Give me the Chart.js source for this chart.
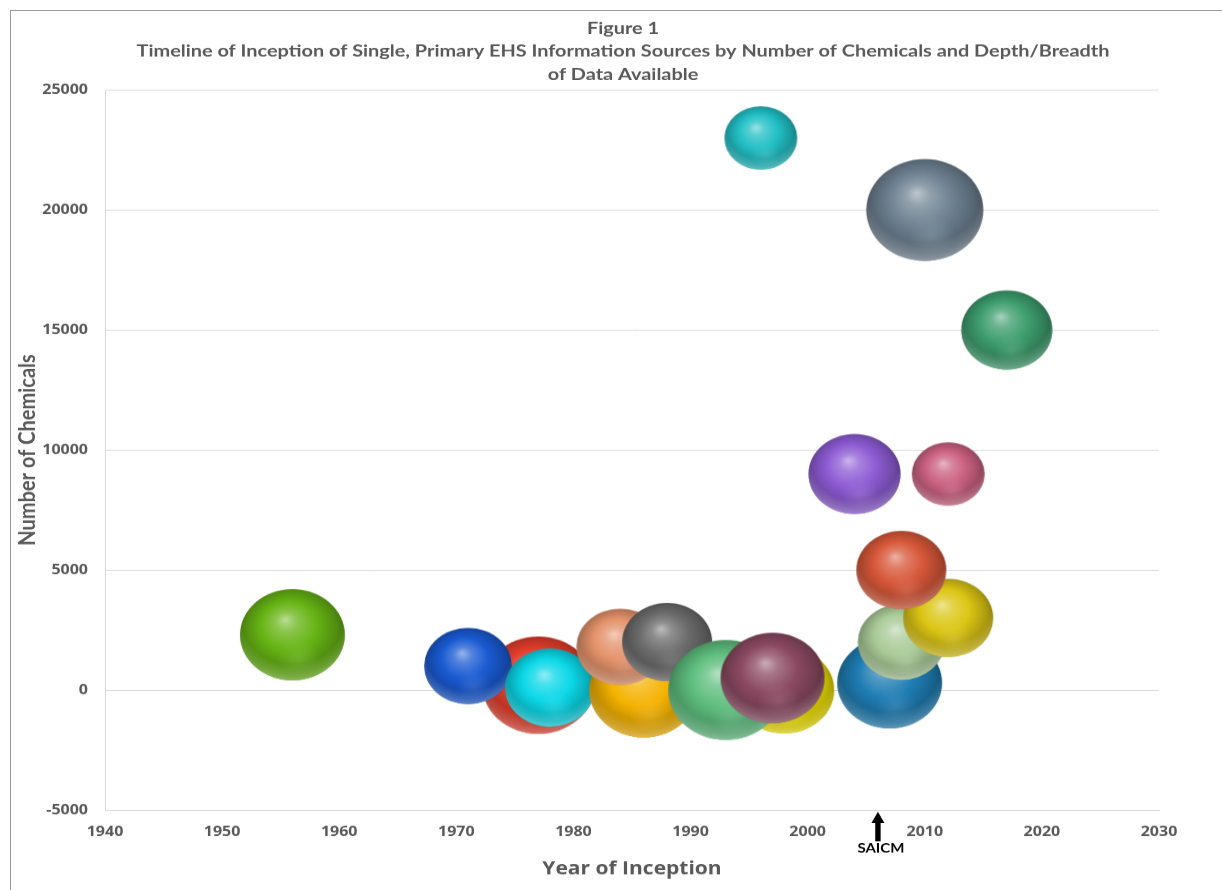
<!DOCTYPE html>
<html>
<head>
<meta charset="utf-8">
<script src="https://cdn.jsdelivr.net/npm/chart.js@4/dist/chart.umd.min.js"></script>
<style>
  html, body { margin: 0; padding: 0; background: #ffffff; overflow: hidden; width: 1222px; height: 890px; }
  #frame {
    position: absolute; left: 10px; top: 10px; width: 1400px; height: 1000px;
    border-left: 1px solid #9a9a9a; border-top: 1px solid #9a9a9a;
  }
  #chart {
    position: absolute; left: 0; top: 0;
    transform: scaleY(0.87); transform-origin: 0 0;
  }
</style>
</head>
<body>
<div id="frame"></div>
<canvas id="chart" width="1246" height="1023"></canvas>
<script>
// Information sources, listed back to front (later entries overlap earlier ones)
const inceptionYears = [1956, 1977, 1971, 1978, 1986, 1984, 1988, 1998, 1993, 1997,
                        1996, 2010, 2017, 2004, 2012, 2007, 2008, 2012, 2008];
const chemicalCounts = [2300, 200, 1000, 100, 0, 1800, 2000, 0, 0, 500,
                        23000, 20000, 15000, 9000, 9000, 300, 2000, 3000, 5000];
// depth/breadth of data available (bubble area)
const depthScores    = [110, 125, 77, 81, 119, 77, 81, 100, 132, 108,
                        53, 137, 83, 85, 53, 110, 76, 81, 81];

const xTickStart = 1940, xTickEnd = 2030, xTickStep = 10;
const yTickStart = -5000, yTickEnd = 25000, yTickStep = 5000;

const milestoneYear = 2006;
const milestoneLabel = 'SAICM';

const titleLines = [
  'Figure 1',
  'Timeline of Inception of Single, Primary EHS Information Sources by Number of Chemicals and Depth/Breadth',
  'of Data Available'
];

const sphereColors = ['#66b414', '#e43e2c', '#1a5bd2', '#0cd8e8', '#f4b200', '#e4926a',
                      '#6c6c6c', '#f2e400', '#5ebe7e', '#8c4a62', '#22c0c6', '#6e8292',
                      '#3e9e6e', '#8e5cd4', '#cc6282', '#1f7db4', '#aacc98', '#dcc614', '#d8583a'];

const TEXT_GREY = '#595959';
const GRID_GREY = '#d9d9d9';
const RADIUS_PER_ROOT = 5;
const TICK_FONT = { family: '"Open Sans", "DejaVu Sans", sans-serif', size: 16, weight: 'bold' };
const TITLE_FONT = 'bold 19.9px Lato, "Noto Sans", sans-serif';
const TITLE_FIRST_LINE = 33, TITLE_LINE_HEIGHT = 26.07;

function hexToRgb(h) {
  const n = parseInt(h.slice(1), 16);
  return [(n >> 16) & 255, (n >> 8) & 255, n & 255];
}
function mix(hex, target, t, alpha) {
  const a = hexToRgb(hex), b = hexToRgb(target);
  const c = a.map((v, i) => Math.round(v + (b[i] - v) * t));
  return alpha === undefined ? `rgb(${c[0]},${c[1]},${c[2]})` : `rgba(${c[0]},${c[1]},${c[2]},${alpha})`;
}

// shaded sphere sprite used as the point style of each bubble
const spriteCache = {};
function sphereSprite(color, r) {
  const key = color + '_' + r.toFixed(2);
  if (spriteCache[key]) return spriteCache[key];
  const d = Math.ceil(2 * r) + 2;
  const cv = document.createElement('canvas');
  cv.width = d; cv.height = d;
  const g = cv.getContext('2d');
  const cx = d / 2, cy = d / 2;
  g.beginPath();
  g.arc(cx, cy, r, 0, Math.PI * 2);
  g.closePath();
  g.save();
  g.clip();
  const hx = cx - 0.14 * r, hy = cy - 0.34 * r;
  const body = g.createRadialGradient(hx, hy, 0, cx, cy - 0.05 * r, r * 1.08);
  body.addColorStop(0, mix(color, '#ffffff', 0.55));
  body.addColorStop(0.2, mix(color, '#ffffff', 0.24));
  body.addColorStop(0.5, color);
  body.addColorStop(0.82, mix(color, '#000000', 0.22));
  body.addColorStop(1, mix(color, '#000000', 0.42));
  g.fillStyle = body;
  g.fillRect(0, 0, d, d);
  // soft reflected light low on the sphere
  const glow = g.createRadialGradient(cx + 0.12 * r, cy + 0.5 * r, 0, cx + 0.12 * r, cy + 0.5 * r, 0.4 * r);
  glow.addColorStop(0, mix(color, '#ffffff', 0.3, 0.35));
  glow.addColorStop(1, mix(color, '#ffffff', 0.3, 0));
  g.fillStyle = glow;
  g.fillRect(0, 0, d, d);
  // rim light along the lower edge
  const rim = g.createRadialGradient(cx, cy - 0.3 * r, 0.95 * r, cx, cy - 0.3 * r, 1.32 * r);
  rim.addColorStop(0, mix(color, '#ffffff', 0.35, 0));
  rim.addColorStop(1, mix(color, '#ffffff', 0.35, 0.85));
  g.fillStyle = rim;
  g.fillRect(0, 0, d, d);
  g.restore();
  spriteCache[key] = cv;
  return cv;
}

const bubbleData = inceptionYears.map((yr, i) => ({
  x: yr,
  y: chemicalCounts[i],
  r: Math.sqrt(depthScores[i]) * RADIUS_PER_ROOT
}));

// multi-line figure title, centred on the whole chart object
const figureTitlePlugin = {
  id: 'figureTitle',
  afterDraw(chart) {
    const { ctx } = chart;
    ctx.save();
    ctx.font = TITLE_FONT;
    ctx.fillStyle = TEXT_GREY;
    ctx.textAlign = 'center';
    ctx.textBaseline = 'middle';
    titleLines.forEach((line, i) => {
      ctx.fillText(line, chart.width / 2, TITLE_FIRST_LINE + i * TITLE_LINE_HEIGHT);
    });
    ctx.restore();
  }
};

// arrow + label marking a policy milestone under the year axis
const milestonePlugin = {
  id: 'milestone',
  afterDraw(chart) {
    const { ctx, chartArea, scales } = chart;
    const x = scales.x.getPixelForValue(milestoneYear);
    const top = chartArea.bottom + 2;
    const headH = 13, headW = 6.5, shaftW = 2.7, len = 34;
    ctx.save();
    ctx.fillStyle = '#000000';
    ctx.beginPath();
    ctx.moveTo(x, top);
    ctx.lineTo(x + headW, top + headH);
    ctx.lineTo(x + shaftW, top + headH);
    ctx.lineTo(x + shaftW, top + len);
    ctx.lineTo(x - shaftW, top + len);
    ctx.lineTo(x - shaftW, top + headH);
    ctx.lineTo(x - headW, top + headH);
    ctx.closePath();
    ctx.fill();
    ctx.font = 'bold 15px Lato, "Noto Sans", sans-serif';
    ctx.textAlign = 'center';
    ctx.textBaseline = 'middle';
    ctx.fillText(milestoneLabel, x + 3, top + len + 8);
    ctx.restore();
  }
};

new Chart(document.getElementById('chart'), {
  type: 'bubble',
  data: {
    datasets: [{
      data: bubbleData,
      pointStyle: (c) => sphereSprite(sphereColors[c.dataIndex], bubbleData[c.dataIndex].r),
      backgroundColor: sphereColors,
      borderWidth: 0,
      clip: false
    }]
  },
  options: {
    responsive: false,
    devicePixelRatio: 1,
    animation: false,
    events: [],
    layout: { padding: { left: 0, right: 87, top: 103.4, bottom: 0 } },
    plugins: {
      legend: { display: false },
      tooltip: { enabled: false },
      title: { display: false }
    },
    scales: {
      x: {
        type: 'linear',
        min: xTickStart, max: xTickEnd,
        grid: { display: false, drawTicks: false },
        border: { display: true, color: GRID_GREY, width: 1 },
        ticks: {
          stepSize: xTickStep,
          padding: 16,
          color: TEXT_GREY,
          font: TICK_FONT,
          callback: (v) => String(v)
        },
        title: {
          display: true,
          text: 'Year of Inception',
          color: TEXT_GREY,
          font: { family: '"Open Sans", "DejaVu Sans", sans-serif', size: 21, weight: 'bold', lineHeight: 1.2 },
          padding: { top: 0, bottom: 11 }
        },
        afterFit(scale) { scale.height = 92; }
      },
      y: {
        type: 'linear',
        min: yTickStart, max: yTickEnd,
        grid: { color: GRID_GREY, lineWidth: 1, drawTicks: false },
        border: { display: true, color: GRID_GREY, width: 1 },
        ticks: {
          stepSize: yTickStep,
          padding: 17,
          color: TEXT_GREY,
          font: TICK_FONT,
          callback: (v) => String(v)
        },
        title: {
          display: true,
          text: 'Number of Chemicals',
          color: TEXT_GREY,
          font: { family: 'Lato, "Noto Sans", sans-serif', size: 23, weight: 'bold', lineHeight: 1.2 },
          padding: { top: 14, bottom: 0 }
        },
        afterFit(scale) { scale.width = 105; }
      }
    }
  },
  plugins: [figureTitlePlugin, milestonePlugin]
});
</script>
</body>
</html>
